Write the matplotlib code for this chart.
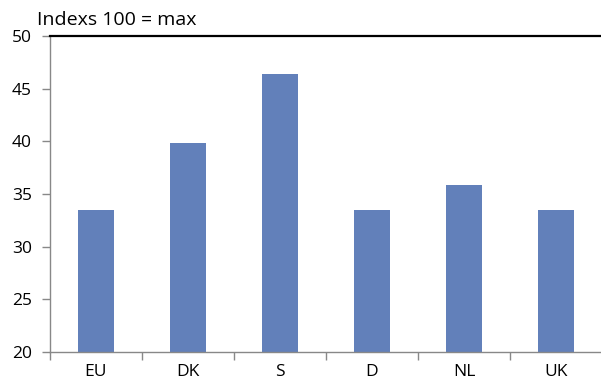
import matplotlib.pyplot as plt
from matplotlib.ticker import FixedLocator

countries = ["EU", "DK", "S", "D", "NL", "UK"]
values = [33.5, 39.8, 46.4, 33.5, 35.9, 33.5]
y_ticks = [20, 25, 30, 35, 40, 45, 50]

plt.rcParams["font.family"] = ["Open Sans", "DejaVu Sans"]

fig = plt.figure(figsize=(6.01, 3.87), dpi=100)
ax = fig.add_axes([50 / 601, 1 - 352 / 387, 552 / 601, 316 / 387])

pos = list(range(len(countries)))
ax.bar(pos, values, width=0.39, color="#6280BA")
ax.set_xlim(-0.5, len(countries) - 0.5)
ax.set_ylim(20, 50)
ax.set_yticks(y_ticks)
ax.set_yticklabels([str(v) for v in y_ticks], fontsize=12.5)

ax.set_xticks(pos)
ax.set_xticklabels(countries, fontsize=12.5)
ax.tick_params(axis="x", which="major", length=0, pad=9)
ax.xaxis.set_minor_locator(FixedLocator([p - 0.5 for p in pos] + [len(countries) - 0.5]))
ax.tick_params(axis="x", which="minor", length=6, color="#888888", width=1)
ax.tick_params(axis="y", length=6, color="#888888", width=1, pad=7)

for side in ["left", "bottom"]:
    ax.spines[side].set_color("#888888")
    ax.spines[side].set_linewidth(1)
ax.spines["right"].set_visible(False)
ax.spines["top"].set_color("black")
ax.spines["top"].set_linewidth(1.6)

fig.text(37 / 601, 1 - 25 / 387, "Indexs 100 = max", fontsize=14, ha="left", va="baseline")

fig.savefig("out.png", dpi=100)
